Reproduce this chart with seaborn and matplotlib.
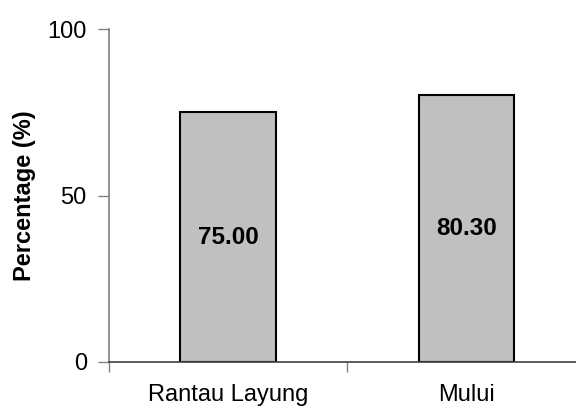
import matplotlib
matplotlib.use("Agg")
import matplotlib.pyplot as plt
import seaborn as sns
import pandas as pd

# Data
sites = ["Rantau Layung", "Mului"]
percentages = [75.00, 80.30]
y_ticks = [0, 50, 100]

sns.set_theme(style="white")
plt.rcParams["font.family"] = ["Liberation Sans", "DejaVu Sans"]
plt.rcParams["text.color"] = "black"
plt.rcParams["axes.labelcolor"] = "black"

df = pd.DataFrame({"site": sites, "pct": percentages})

fig = plt.figure(figsize=(5.76, 4.08), dpi=100)
ax = fig.add_axes([109 / 576, 1 - 362 / 408, 1 - 109 / 576, (362 - 29) / 408])

sns.barplot(data=df, x="site", y="pct", color="#c0c0c0", edgecolor="black",
            linewidth=1.5, width=0.4, saturation=1, ax=ax)

# value labels centred in each bar
ax.bar_label(ax.containers[0], fmt="%.2f", label_type="center",
             fontsize=17.5, fontweight="bold", color="black")

ax.set_ylim(0, 100)
ax.set_xlim(-0.5, 1.46)
ax.set_yticks(y_ticks)
ax.set_yticklabels([str(t) for t in y_ticks])

# tick marks at category boundaries, labels at category centres
ax.set_xticks([-0.5, 0.5])
ax.set_xticklabels(["", ""])
ax.set_xticks([0, 1], minor=True)
ax.set_xticklabels(sites, minor=True)
ax.tick_params(axis="x", which="major", direction="out", length=7,
               width=1, color="#808080", bottom=True)
ax.tick_params(axis="x", which="minor", length=0, pad=16, labelsize=17,
               labelcolor="black")
ax.tick_params(axis="y", direction="out", length=8, width=1,
               color="#808080", left=True, pad=8, labelsize=17,
               labelcolor="black")

ax.set_xlabel("")
ax.set_ylabel("Percentage (%)", fontsize=17, fontweight="bold", labelpad=8,
              color="black")

for side in ["top", "right"]:
    ax.spines[side].set_visible(False)
ax.spines["left"].set_color("#808080")
ax.spines["left"].set_linewidth(1.2)
ax.spines["bottom"].set_color("#404040")
ax.spines["bottom"].set_linewidth(1.2)

fig.savefig("out.png", dpi=100)
